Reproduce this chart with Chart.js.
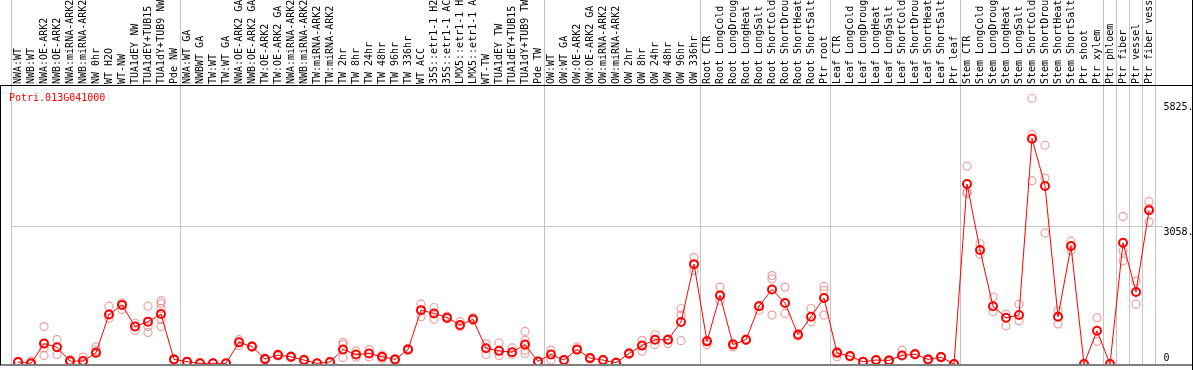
<!DOCTYPE html>
<html>
<head>
<meta charset="utf-8">
<script src="https://cdn.jsdelivr.net/npm/chart.js@4.4.1/dist/chart.umd.min.js"></script>
<style>
  html, body { margin: 0; padding: 0; background: #fff; }
  #wrap { width: 1194px; height: 370px; position: relative; }
</style>
</head>
<body>
<div id="wrap"><canvas id="exprChart"></canvas></div>
<script>
const geneId = 'Potri.013G041000';

// nomes das amostras (cortados a 14 caracteres como no original)
const amostras = [
  'NWA:WT', 'NWB:WT', 'NWA:OE-ARK2', 'NWB:OE-ARK2', 'NWA:miRNA-ARK2', 'NWB:miRNA-ARK2',
  'NW 0hr', 'WT H2O', 'WT-NW', 'TUA1dEY NW', 'TUA1dEY+TUB15', 'TUA1dY+TUB9 NW', 'Pde NW',
  'NWA:WT GA', 'NWBWT GA', 'TW:WT', 'TW:WT GA', 'NWA:OE-ARK2 GA', 'NWB:OE-ARK2 GA',
  'TW:OE-ARK2', 'TW:OE-ARK2 GA', 'NWA:miRNA-ARK2', 'NWB:miRNA-ARK2', 'TW:miRNA-ARK2', 'TW:miRNA-ARK2',
  'TW 2hr', 'TW 8hr', 'TW 24hr', 'TW 48hr', 'TW 96hr', 'TW 336hr', 'WT ACC',
  '35S::etr1-1 H2', '35S::etr1-1 AC', 'LMX5::etr1-1 H', 'LMX5::etr1-1 A',
  'WT-TW', 'TUA1dEY TW', 'TUA1dEY+TUB15', 'TUA1dY+TUB9 TW', 'Pde TW',
  'OW:WT', 'OW:WT GA', 'OW:OE-ARK2', 'OW:OE-ARK2 GA', 'OW:miRNA-ARK2', 'OW:miRNA-ARK2',
  'OW 2hr', 'OW 8hr', 'OW 24hr', 'OW 48hr', 'OW 96hr', 'OW 336hr',
  'Root CTR', 'Root LongCold', 'Root LongDroug', 'Root LongHeat', 'Root LongSalt',
  'Root ShortCold', 'Root ShortDrou', 'Root ShortHeat', 'Root ShortSalt', 'Ptr root',
  'Leaf CTR', 'Leaf LongCold', 'Leaf LongDroug', 'Leaf LongHeat', 'Leaf LongSalt',
  'Leaf ShortCold', 'Leaf ShortDrou', 'Leaf ShortHeat', 'Leaf ShortSalt', 'Ptr leaf',
  'Stem CTR', 'Stem LongCold', 'Stem LongDroug', 'Stem LongHeat', 'Stem LongSalt',
  'Stem ShortCold', 'Stem ShortDrou', 'Stem ShortHeat', 'Stem ShortSalt',
  'Ptr shoot', 'Ptr xylem', 'Ptr phloem', 'Ptr fiber', 'Ptr vessel', 'Ptr fiber vess'
];

// media de cada amostra
const medias = [
  44, 15, 452, 371, 65, 65, 247, 1099, 1310, 830, 939, 1107, 102,
  51, 15, 15, 15, 480, 386, 109, 197, 160, 87, 15, 44, 320, 211, 233, 160, 102, 320,
  1194, 1121, 1027, 866, 990, 349, 291, 262, 430, 58,
  211, 87, 320, 131, 87, 29, 233, 408, 539, 539, 932, 2213,
  502, 1521, 430, 539, 1281, 1653, 1354, 648, 1048, 1463,
  247, 175, 51, 87, 80, 190, 218, 102, 153, 0,
  3990, 2527, 1281, 1027, 1085, 4995, 3946, 1048, 2614, 0, 736,
  0, 2687, 1594, 3407
];

// replicas de cada amostra (circulos claros)
const replicas = [
  [60, 30], [65, 0], [830, 357, 190], [539, 211], [100, 40], [153, 20], [378, 300],
  [1281, 1012], [1354, 1209], [903, 743], [1281, 830, 699], [1398, 1340, 1230, 990, 830], [120, 90],
  [60, 40], [30, 5], [30, 5], [20, 10], [539, 408], [400, 370], [130, 90], [220, 180], [180, 140],
  [110, 70], [20, 10], [60, 30], [480, 430, 146], [284, 150], [320, 160], [200, 110], [120, 90],
  [350, 300], [1325, 1048], [1252, 990], [1060, 1000], [939, 830], [1030, 960],
  [452, 211], [466, 190], [357, 211], [721, 524, 306, 233], [70, 50],
  [306, 87], [100, 70], [378, 300], [150, 110], [100, 70], [40, 20], [250, 210],
  [524, 284], [648, 430], [452, 560], [1230, 1085, 517], [2359, 2068],
  [430, 530], [1704, 1413], [378, 460], [560, 520], [1300, 1194], [1959, 1885, 1085],
  [1704, 1121], [680, 620], [1230, 939], [1719, 1631, 1085],
  [160, 280], [190, 160], [60, 40], [100, 70], [100, 60], [306, 200], [240, 200], [120, 90],
  [170, 140], [10, 0],
  [4384, 3816, 3779], [2665, 2432], [1485, 1158], [1107, 845], [1325, 961],
  [5890, 5089, 4063], [4849, 4121, 2905], [1179, 889], [2723, 2518], [10, 0], [1027, 502],
  [10, 0], [3270, 2505, 2287], [1835, 1325], [3597, 3145, 3450]
];

const yTicks = [0, 3058, 5825];
const yTickLabels = ['0', '3058.', '5825.'];
const yMax = 6162;

// indice onde comeca cada grupo (linhas verticais cinzentas)
const groupStarts = [0, 13, 41, 53, 63, 73, 84, 85, 86, 87, 88];

const fonte = { family: 'DejaVu Sans Mono', size: 10 };
const cinza = '#c4c4c4';
const nada = 'rgba(0,0,0,0)';

// monta um dataset por "coluna" de replicas
const maxRep = Math.max(...replicas.map(r => r.length));
const repDatasets = [];
for (let k = 0; k < maxRep; k++) {
  repDatasets.push({
    type: 'line',
    label: 'rep' + (k + 1),
    data: replicas.map(r => (r[k] === undefined ? null : r[k])),
    showLine: false,
    pointRadius: 4,
    pointBorderWidth: 1.2,
    pointBorderColor: 'rgba(232, 120, 120, 0.7)',
    pointBackgroundColor: nada,
    order: 1
  });
}

const molduraPlugin = {
  id: 'moldura',
  afterDraw(chart) {
    const ctx = chart.ctx;
    const area = chart.chartArea;
    const w = chart.width;
    ctx.save();
    ctx.strokeStyle = '#000';
    ctx.lineWidth = 1;
    ctx.beginPath();
    ctx.moveTo(0, area.top - 0.5);
    ctx.lineTo(w - 1, area.top - 0.5);
    ctx.moveTo(0, area.bottom + 1);
    ctx.lineTo(w - 1, area.bottom + 1);
    ctx.moveTo(0.5, area.top - 0.5);
    ctx.lineTo(0.5, area.bottom + 1);
    ctx.moveTo(w - 1.5, 0);
    ctx.lineTo(w - 1.5, chart.height);
    ctx.stroke();

    // nome do gene dentro do grafico
    ctx.fillStyle = '#ff0000';
    ctx.font = '10px "DejaVu Sans Mono"';
    ctx.textBaseline = 'alphabetic';
    ctx.fillText(geneId, 9, 101);
    ctx.restore();
  }
};

const ctx = document.getElementById('exprChart').getContext('2d');
new Chart(ctx, {
  type: 'line',
  data: {
    labels: amostras,
    datasets: [
      {
        label: geneId,
        data: medias,
        borderColor: '#ff0000',
        borderWidth: 1,
        tension: 0,
        pointRadius: 4,
        pointBorderWidth: 2,
        pointBorderColor: '#ff0000',
        pointBackgroundColor: nada,
        order: 0
      },
      ...repDatasets
    ]
  },
  options: {
    responsive: true,
    maintainAspectRatio: false,
    animation: false,
    devicePixelRatio: 1,
    layout: { padding: { left: 11.5, right: 1.5, top: 0, bottom: 1.5 } },
    plugins: {
      legend: { display: false },
      tooltip: { enabled: false }
    },
    scales: {
      x: {
        type: 'category',
        position: 'top',
        offset: true,
        grid: {
          offset: true,
          tickLength: 86,
          lineWidth: 1,
          color: c => {
            if (c.index === undefined) return cinza;
            return groupStarts.includes(c.index) ? cinza : nada;
          }
        },
        border: { display: false },
        ticks: {
          autoSkip: false,
          minRotation: 90,
          maxRotation: 90,
          padding: -84,
          labelOffset: 12,
          color: '#000',
          font: fonte
        },
        afterFit: s => { s.height = 86; }
      },
      y: {
        type: 'linear',
        position: 'right',
        min: 0,
        max: yMax,
        afterBuildTicks: s => { s.ticks = yTicks.map(v => ({ value: v })); },
        grid: {
          drawTicks: true,
          tickLength: 7,
          color: c => (c.tick && c.tick.value === 3058 ? cinza : nada)
        },
        border: { display: false },
        ticks: {
          padding: 1,
          color: '#000',
          font: fonte,
          // o "0" fica acima da linha, os outros abaixo
          callback: (v, i) => (i === 0 ? [yTickLabels[i], ''] : ['', yTickLabels[i]])
        },
        afterFit: s => {
          s.width = 37;
          s.paddingTop = 0;
          s.paddingBottom = 0;
        }
      }
    }
  },
  plugins: [molduraPlugin]
});
</script>
</body>
</html>
